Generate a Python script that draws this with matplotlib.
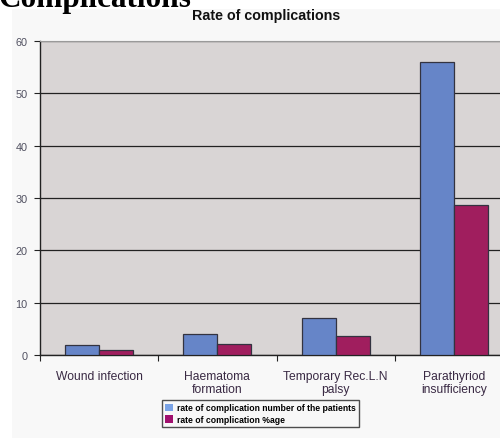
import matplotlib
matplotlib.use("Agg")
import matplotlib.pyplot as plt
from matplotlib.patches import Patch, Rectangle
import numpy as np

categories = ["Wound infection", "Haematoma\nformation", "Temporary Rec.L.N\npalsy", "Parathyriod\ninsufficiency"]
num_patients = [2, 4, 7, 56]
pct_age = [1.02, 2.04, 3.57, 28.57]
series_names = ["rate of complication number of the patients", "rate of complication %age"]
yticks = [0, 10, 20, 30, 40, 50, 60]

plt.rcParams['font.family'] = ['Liberation Sans', 'DejaVu Sans']

W, H = 500, 439
fig = plt.figure(figsize=(W / 100, H / 100), dpi=100, facecolor='white')

# chart area background
fig.patches.append(Rectangle((12 / W, 0), 1 - 12 / W, 1 - 10 / H, transform=fig.transFigure,
                             facecolor='#f8f8f8', edgecolor='none', zorder=-10))

ax = fig.add_axes([40 / W, 1 - 356 / H, 473 / W, (356 - 42) / H])
ax.set_facecolor('#d9d5d5')

x = np.arange(len(categories))
w = 0.287
ax.bar(x - w / 2, num_patients, width=w, color='#6685c8', edgecolor='#333340', linewidth=0.9, zorder=3)
ax.bar(x + w / 2, pct_age, width=w, color='#a01e5e', edgecolor='#333340', linewidth=0.9, zorder=3)

ax.set_xlim(-0.5, len(categories) - 0.5)
ax.set_ylim(0, 60)
ax.set_yticks(yticks)
ax.set_yticklabels([str(v) for v in yticks], fontsize=7.8, color='#505060')
ax.yaxis.grid(True, color='#222222', linewidth=0.9, zorder=1)
ax.set_axisbelow(True)

ax.set_xticks(np.arange(-0.5, len(categories) - 0.5, 1.0))
ax.set_xticklabels([])
ax.set_xticks(x, minor=True)
ax.set_xticklabels(categories, minor=True, fontsize=8.7, color='#3a2a44', linespacing=1.1)
ax.tick_params(axis='x', which='minor', length=0, pad=11)
ax.tick_params(axis='x', which='major', length=4, direction='out', color='#222222')
ax.tick_params(axis='y', length=4, direction='out', color='#222222', pad=5)

ax.spines['top'].set_color('#9a9a9a')
ax.spines['top'].set_linewidth(0.8)
ax.spines['right'].set_visible(False)
ax.spines['left'].set_color('#222222')
ax.spines['bottom'].set_color('#222222')
ax.spines['left'].set_linewidth(1.0)
ax.spines['bottom'].set_linewidth(1.0)

fig.text(266 / W, 1 - 16 / H, "Rate of complications", ha='center', va='center',
         fontsize=10.3, fontweight='bold', color='#111111')

fig.text(-2 / W, 1 - 7 / H, "Complications", ha='left', va='baseline',
         fontsize=22.5, fontweight='bold', family=['Liberation Serif', 'DejaVu Serif'], color='black')

handles = [Patch(facecolor='#7aa3e6', edgecolor='none'), Patch(facecolor='#a0106e', edgecolor='none')]
leg = fig.legend(handles, series_names, loc='upper left', bbox_to_anchor=(162 / W, 1 - 401 / H),
                 frameon=True, fancybox=False, prop={'size': 6.2, 'weight': 'bold'},
                 handlelength=0.9, handleheight=0.9, handletextpad=0.4, borderpad=0.4,
                 labelspacing=0.3, borderaxespad=0)
leg.get_frame().set_edgecolor('#222222')
leg.get_frame().set_linewidth(1.0)
leg.get_frame().set_facecolor('#f8f8f8')

fig.savefig("out.png", dpi=100, facecolor=fig.get_facecolor())
